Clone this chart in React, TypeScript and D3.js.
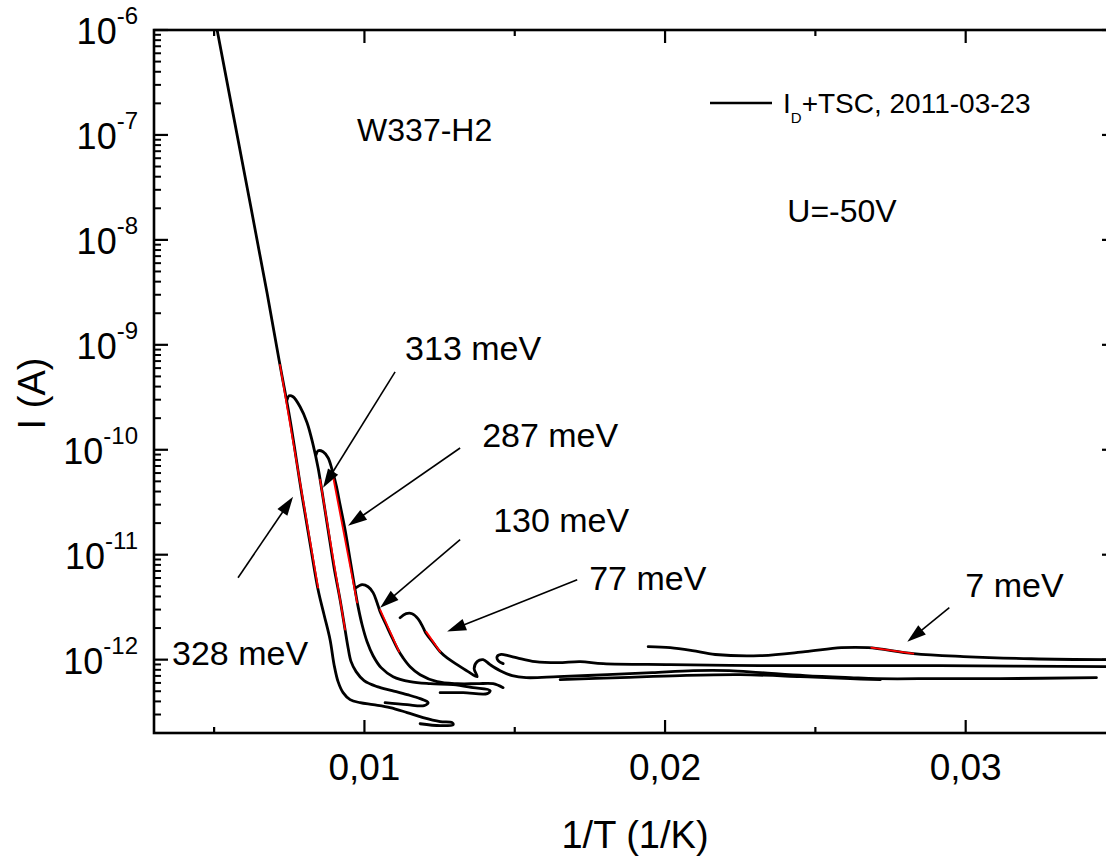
import React from 'react';
import * as d3 from 'd3';

type Pt = [number, number];

const W = 1106;
const H = 858;
const PL = 154, PR = 1116, PT = 30, PB = 733;

const xDomain: [number, number] = [0.003, 0.035];
const yDomain: [number, number] = [2e-13, 1e-6];
const xMajorTicks = [0.01, 0.02, 0.03];
const xTickLabels = ['0,01', '0,02', '0,03'];
const xMinorTicks = [0.005, 0.015, 0.025];
const yMajorExps = [-12, -11, -10, -9, -8, -7, -6];

// measured branches: [1/T (1/K), I (A)]
const branch328: Pt[] = [
  [0.00505, 1.2e-6], [0.0051, 1.0e-6], [0.00593, 5.65e-8], [0.00676, 3.13e-9],
  [0.00719, 6.45e-10], [0.007526, 1.93e-10], [0.007892, 4.16e-11], [0.008225, 1.12e-11],
  [0.008458, 4.64e-12], [0.008657, 2.68e-12], [0.008857, 1.55e-12], [0.00899, 8.96e-13],
  [0.009123, 6.17e-13], [0.00929, 4.85e-13], [0.009523, 4.16e-13], [0.009855, 3.89e-13],
  [0.010288, 3.72e-13], [0.010854, 3.49e-13], [0.011419, 3.13e-13], [0.011952, 2.8e-13],
  [0.012518, 2.57e-13], [0.012917, 2.51e-13], [0.01295, 2.4e-13], [0.012518, 2.35e-13],
  [0.011852, 2.45e-13],
];
const branch313: Pt[] = [
  [0.007426, 2.99e-10], [0.007493, 3.27e-10], [0.007626, 3.2e-10], [0.007859, 2.57e-10],
  [0.008092, 1.81e-10], [0.008291, 1.12e-10], [0.008458, 6.74e-11], [0.008591, 3.98e-11],
  [0.00879, 1.73e-11], [0.00899, 7.52e-12], [0.00919, 3.73e-12], [0.009356, 1.93e-12],
  [0.009456, 1.3e-12], [0.009556, 9.57e-13], [0.009722, 7.69e-13], [0.009988, 6.31e-13],
  [0.010421, 5.53e-13], [0.01092, 5.07e-13], [0.011419, 4.64e-13], [0.011852, 4.25e-13],
  [0.012118, 3.89e-13], [0.011985, 3.65e-13], [0.011419, 3.72e-13], [0.010687, 3.89e-13],
];
const branch287: Pt[] = [
  [0.008391, 8.96e-11], [0.008458, 9.78e-11], [0.008624, 9.57e-11], [0.00879, 8.39e-11],
  [0.008923, 6.45e-11], [0.009057, 4.64e-11], [0.00919, 2.99e-11], [0.009356, 1.73e-11],
  [0.009523, 8.96e-12], [0.009689, 4.64e-12], [0.009789, 3.2e-12], [0.009922, 2.15e-12],
  [0.010088, 1.48e-12], [0.010288, 1.09e-12], [0.010554, 8.39e-13], [0.010954, 6.89e-13],
  [0.011519, 6.17e-13], [0.012185, 5.9e-13], [0.01295, 5.78e-13], [0.013616, 5.41e-13],
  [0.014181, 5.07e-13], [0.014082, 4.74e-13], [0.013283, 4.85e-13], [0.012518, 4.85e-13],
];
const branch130: Pt[] = [
  [0.009722, 4.85e-12], [0.009922, 5.18e-12], [0.010122, 4.95e-12], [0.010288, 4.35e-12],
  [0.010421, 3.49e-12], [0.010521, 2.86e-12], [0.010721, 2.15e-12], [0.01092, 1.62e-12],
  [0.01112, 1.24e-12], [0.011286, 1.04e-12], [0.011519, 8.57e-13], [0.011852, 7.19e-13],
  [0.012418, 6.17e-13], [0.013083, 5.9e-13], [0.013749, 5.9e-13], [0.014281, 5.9e-13],
  [0.014614, 5.41e-13],
];
const branch77: Pt[] = [
  [0.011186, 2.51e-12], [0.011386, 2.74e-12], [0.011586, 2.74e-12], [0.011785, 2.45e-12],
  [0.011952, 2.02e-12], [0.012052, 1.77e-12], [0.012285, 1.45e-12], [0.012518, 1.19e-12],
  [0.012751, 1.04e-12], [0.013083, 8.96e-13], [0.013449, 7.69e-13], [0.013749, 6.89e-13],
  [0.013649, 8.21e-13], [0.013749, 9.57e-13], [0.013948, 1.0e-12], [0.014181, 8.96e-13],
  [0.014514, 7.85e-13], [0.014914, 7.05e-13], [0.015379, 6.74e-13], [0.016444, 6.89e-13],
  [0.018075, 7.19e-13], [0.019572, 7.52e-13], [0.020937, 7.85e-13], [0.022135, 7.85e-13],
  [0.023166, 7.52e-13], [0.024664, 7.05e-13], [0.026161, 6.74e-13], [0.02706, 6.59e-13],
  [0.029157, 6.59e-13], [0.031153, 6.59e-13], [0.034348, 6.74e-13],
];
const branchLens: Pt[] = [
  [0.016511, 6.45e-13], [0.018508, 6.74e-13], [0.020504, 7.05e-13], [0.022501, 7.19e-13],
  [0.024498, 6.89e-13], [0.026161, 6.59e-13], [0.02716, 6.45e-13],
];
const branchMiddle: Pt[] = [
  [0.014614, 9.16e-13], [0.014448, 9.78e-13], [0.014414, 1.07e-12], [0.014548, 1.12e-12],
  [0.01478, 1.09e-12], [0.01508, 1.04e-12], [0.015679, 9.57e-13], [0.016444, 9.36e-13],
  [0.017176, 9.57e-13], [0.017942, 9.16e-13], [0.020171, 8.96e-13], [0.023166, 8.77e-13],
  [0.026161, 8.77e-13], [0.029157, 8.77e-13], [0.03468, 8.57e-13], [0.0355, 8.57e-13],
];
const branch7: Pt[] = [
  [0.019439, 1.33e-12], [0.020171, 1.3e-12], [0.020904, 1.22e-12], [0.021669, 1.12e-12],
  [0.023166, 1.09e-12], [0.024664, 1.19e-12], [0.025862, 1.3e-12], [0.026761, 1.3e-12],
  [0.028258, 1.14e-12], [0.029922, 1.07e-12], [0.032185, 1.02e-12], [0.03468, 1.0e-12],
  [0.0355, 1.0e-12],
];
const branches: Pt[][] = [branch328, branch313, branch287, branch130, branch77, branchLens, branchMiddle, branch7];

// Arrhenius fit segments (red)
const fitSegments: [Pt, Pt][] = [
  [[0.00719, 6.45e-10], [0.008458, 4.85e-12]],
  [[0.008524, 5.18e-11], [0.009356, 1.93e-12]],
  [[0.008957, 5.53e-11], [0.009756, 3.49e-12]],
  [[0.010521, 2.99e-12], [0.011153, 1.19e-12]],
  [[0.012052, 1.85e-12], [0.012518, 1.19e-12]],
  [[0.02686, 1.3e-12], [0.028258, 1.14e-12]],
];

const energyLabels = ['328 meV', '313 meV', '287 meV', '130 meV', '77 meV', '7 meV'];
const labelPos: Pt[] = [
  [0.003599, 8.96e-13], [0.011353, 7.19e-10], [0.013915, 1.07e-10],
  [0.014281, 1.66e-11], [0.017476, 4.64e-12], [0.029988, 3.98e-12],
];
const arrowFrom: Pt[] = [
  [0.005795, 6.04e-12], [0.01102, 5.53e-10], [0.013183, 1.04e-10],
  [0.013183, 1.39e-11], [0.017077, 5.78e-12], [0.029456, 3.13e-12],
];
const arrowTo: Pt[] = [
  [0.007626, 3.57e-11], [0.008624, 4.35e-11], [0.009456, 1.89e-11],
  [0.010521, 3.13e-12], [0.012751, 1.85e-12], [0.028058, 1.48e-12],
];

const sampleName = 'W337-H2';
const sampleNamePos: Pt = [0.009756, 8.77e-8];
const biasText = 'U=-50V';
const biasPos: Pt = [0.024065, 1.48e-8];
const legendMain = 'I';
const legendSub = 'D';
const legendRest = '+TSC, 2011-03-23';
const xTitle = '1/T (1/K)';
const yTitle = 'I (A)';

const FONT = "'Liberation Sans', Arial, Helvetica, sans-serif";

export default function App() {
  const x = d3.scaleLinear().domain(xDomain).range([PL, PR]);
  const y = d3.scaleLog().domain(yDomain).range([PB, PT]);
  const line = d3
    .line<Pt>()
    .x((d) => x(d[0]))
    .y((d) => y(d[1]))
    .curve(d3.curveCatmullRom.alpha(0.5));
  const straight = d3
    .line<Pt>()
    .x((d) => x(d[0]))
    .y((d) => y(d[1]));

  const yMinor: number[] = [];
  for (let e = -13; e <= -7; e++) {
    for (let k = 2; k <= 9; k++) {
      const v = k * Math.pow(10, e);
      if (v > yDomain[0] * 1.001 && v < yDomain[1]) yMinor.push(v);
    }
  }

  const arrows = arrowFrom.map((f, i) => {
    const t = arrowTo[i];
    const x1 = x(f[0]), y1 = y(f[1]), x2 = x(t[0]), y2 = y(t[1]);
    const dx = x2 - x1, dy = y2 - y1;
    const len = Math.hypot(dx, dy);
    const ux = dx / len, uy = dy / len;
    const hl = 19, hw = 6;
    const bx = x2 - ux * hl, by = y2 - uy * hl;
    const p1 = [bx - uy * hw, by + ux * hw];
    const p2 = [bx + uy * hw, by - ux * hw];
    return (
      <g key={'a' + i}>
        <line x1={x1} y1={y1} x2={bx + ux * 2} y2={by + uy * 2} stroke="#000" strokeWidth={1.6} />
        <path d={`M${x2},${y2}L${p1[0]},${p1[1]}L${p2[0]},${p2[1]}Z`} fill="#000" />
      </g>
    );
  });

  return (
    <svg
      width={W}
      height={H}
      style={{ position: 'absolute', left: 0, top: 0, background: '#fff', display: 'block' }}
      fontFamily={FONT}
    >
      <rect x={0} y={0} width={W} height={H} fill="#fff" />
      <defs>
        <clipPath id="plotClip">
          <rect x={PL} y={PT} width={PR - PL} height={PB - PT} />
        </clipPath>
      </defs>

      {/* data */}
      <g clipPath="url(#plotClip)" fill="none" strokeLinejoin="round" strokeLinecap="round">
        {branches.map((b, i) => (
          <path key={'b' + i} d={line(b) || ''} stroke="#000" strokeWidth={2.8} />
        ))}
        {fitSegments.map((s, i) => (
          <path key={'f' + i} d={straight(s) || ''} stroke="#ff0000" strokeWidth={1.8} />
        ))}
      </g>

      {/* frame */}
      <rect x={PL} y={PT} width={PR - PL} height={PB - PT} fill="none" stroke="#000" strokeWidth={2.6} />

      {/* x ticks (bottom & top, inward) */}
      {xMajorTicks.map((v) => (
        <g key={'xm' + v}>
          <line x1={x(v)} x2={x(v)} y1={PB} y2={PB - 13} stroke="#000" strokeWidth={2.2} />
          <line x1={x(v)} x2={x(v)} y1={PT} y2={PT + 13} stroke="#000" strokeWidth={2.2} />
        </g>
      ))}
      {xMinorTicks.map((v) => (
        <g key={'xn' + v}>
          <line x1={x(v)} x2={x(v)} y1={PB} y2={PB - 6} stroke="#000" strokeWidth={2.2} />
          <line x1={x(v)} x2={x(v)} y1={PT} y2={PT + 6} stroke="#000" strokeWidth={2.2} />
        </g>
      ))}
      {xMajorTicks.map((v, i) => (
        <text key={'xl' + v} x={x(v)} y={780} fontSize={37} textAnchor="middle" fill="#000">
          {xTickLabels[i]}
        </text>
      ))}

      {/* y ticks (left & right, inward) */}
      {yMajorExps.map((e) => {
        const v = Math.pow(10, e);
        return (
          <g key={'ym' + e}>
            <line x1={PL} x2={PL + 14} y1={y(v)} y2={y(v)} stroke="#000" strokeWidth={2.2} />
            <line x1={PR} x2={PR - 14} y1={y(v)} y2={y(v)} stroke="#000" strokeWidth={2.2} />
            <text x={138} y={y(v) + 14} fontSize={36} textAnchor="end" fill="#000">
              10
              <tspan dy={-20} fontSize={24}>{String(e)}</tspan>
            </text>
          </g>
        );
      })}
      {yMinor.map((v, i) => (
        <g key={'yn' + i}>
          <line x1={PL} x2={PL + 7} y1={y(v)} y2={y(v)} stroke="#000" strokeWidth={2} />
          <line x1={PR} x2={PR - 7} y1={y(v)} y2={y(v)} stroke="#000" strokeWidth={2} />
        </g>
      ))}

      {/* axis titles */}
      <text x={(PL + PR) / 2} y={848} fontSize={38} textAnchor="middle" fill="#000">
        {xTitle}
      </text>
      <text
        transform={`translate(45,${(PT + PB) / 2 + 12}) rotate(-90)`}
        fontSize={38}
        textAnchor="middle"
        fill="#000"
      >
        {yTitle}
      </text>

      {/* annotations */}
      <text x={x(sampleNamePos[0])} y={y(sampleNamePos[1])} fontSize={32} fill="#000">
        {sampleName}
      </text>
      <text x={x(biasPos[0])} y={y(biasPos[1])} fontSize={32} fill="#000">
        {biasText}
      </text>
      {energyLabels.map((t, i) => (
        <text key={'el' + i} x={x(labelPos[i][0])} y={y(labelPos[i][1])} fontSize={34} fill="#000">
          {t}
        </text>
      ))}
      {arrows}

      {/* legend */}
      <line x1={710} x2={772} y1={103} y2={103} stroke="#000" strokeWidth={2.6} />
      <text x={783} y={113} fontSize={28} fill="#000">
        {legendMain}
        <tspan dy={10} fontSize={15}>{legendSub}</tspan>
        <tspan dy={-10}>{legendRest}</tspan>
      </text>
    </svg>
  );
}
